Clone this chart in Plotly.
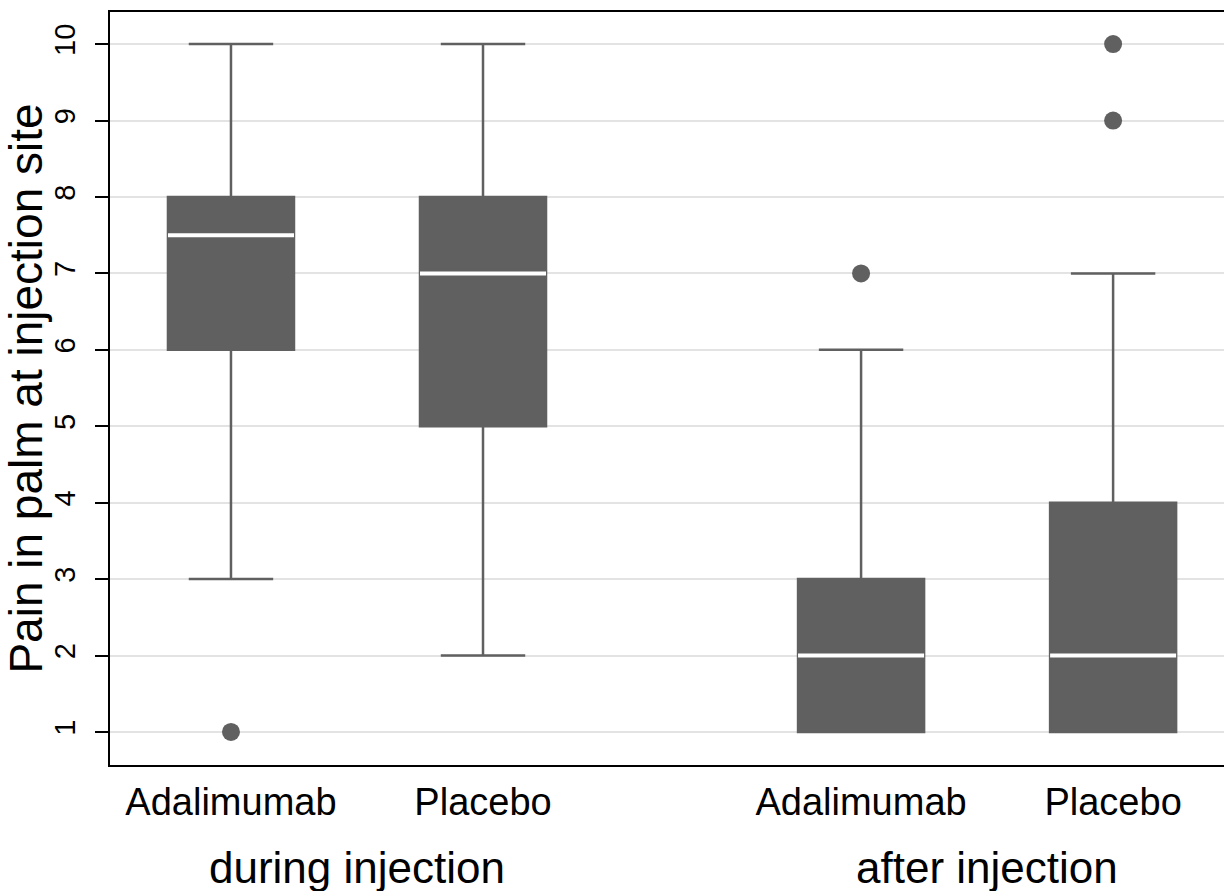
import plotly.graph_objects as go

# Box summaries per group (pain score, 0-10 scale)
timing = ["during injection", "during injection", "after injection", "after injection"]
treatment = ["Adalimumab", "Placebo", "Adalimumab", "Placebo"]
positions = [1.0, 2.0, 3.5, 4.5]
lower_whisker = [3, 2, 1, 1]
q1 = [6, 5, 1, 1]
median = [7.5, 7, 2, 2]
q3 = [8, 8, 3, 4]
upper_whisker = [10, 10, 6, 7]

# Outside values
outlier_pos = [1.0, 3.5, 4.5, 4.5]
outlier_val = [1, 7, 9, 10]

y_ticks = list(range(1, 11))
y_title = "Pain in palm at injection site"

BOX_W = 0.5
GREY = "#606060"
FONT = "Liberation Sans, Arial, sans-serif"

fig = go.Figure()

fig.add_trace(go.Box(
    x=positions,
    q1=q1, median=median, q3=q3,
    lowerfence=lower_whisker, upperfence=upper_whisker,
    width=BOX_W, whiskerwidth=0.67,
    fillcolor=GREY,
    line=dict(color=GREY, width=2.5),
    boxpoints=False,
    showlegend=False,
    hoverinfo="skip",
))

# White median bars drawn over each box
for p, m in zip(positions, median):
    fig.add_trace(go.Scatter(
        x=[p - BOX_W / 2, p + BOX_W / 2], y=[m, m],
        mode="lines", line=dict(color="white", width=4),
        showlegend=False, hoverinfo="skip",
    ))

fig.add_trace(go.Scatter(
    x=outlier_pos, y=outlier_val, mode="markers",
    marker=dict(color=GREY, size=18, line=dict(width=0)),
    showlegend=False, hoverinfo="skip",
))

# Group captions under each pair of boxes
groups = []
for t in timing:
    if t not in groups:
        groups.append(t)
for g in groups:
    xs = [p for p, t in zip(positions, timing) if t == g]
    fig.add_annotation(
        x=sum(xs) / len(xs), xref="x",
        y=-0.136, yref="paper", yanchor="middle",
        text=g, showarrow=False,
        font=dict(family=FONT, size=44, color="black"),
    )

fig.update_layout(
    width=1224, height=891,
    margin=dict(l=110, r=0, t=12, b=126),
    plot_bgcolor="white", paper_bgcolor="white",
    font=dict(family=FONT, color="black"),
)

fig.update_xaxes(
    range=[0.52, 4.94],
    tickvals=positions, ticktext=treatment,
    tickfont=dict(family=FONT, size=38, color="black"),
    ticks="", ticklabelstandoff=2,
    showgrid=False, zeroline=False,
    showline=True, linecolor="black", linewidth=2, mirror=True,
)

fig.update_yaxes(
    range=[0.568, 10.42],
    tickvals=y_ticks,
    tickangle=-90,
    tickfont=dict(family=FONT, size=29, color="black"),
    ticks="outside", ticklen=13, tickwidth=2, tickcolor="black",
    ticklabelstandoff=8,
    showgrid=True, gridcolor="#e3e3e3", gridwidth=2,
    zeroline=False,
    showline=True, linecolor="black", linewidth=2,
    title=dict(text=y_title, font=dict(family=FONT, size=46, color="black"), standoff=4),
)

fig.write_html("out.html")
